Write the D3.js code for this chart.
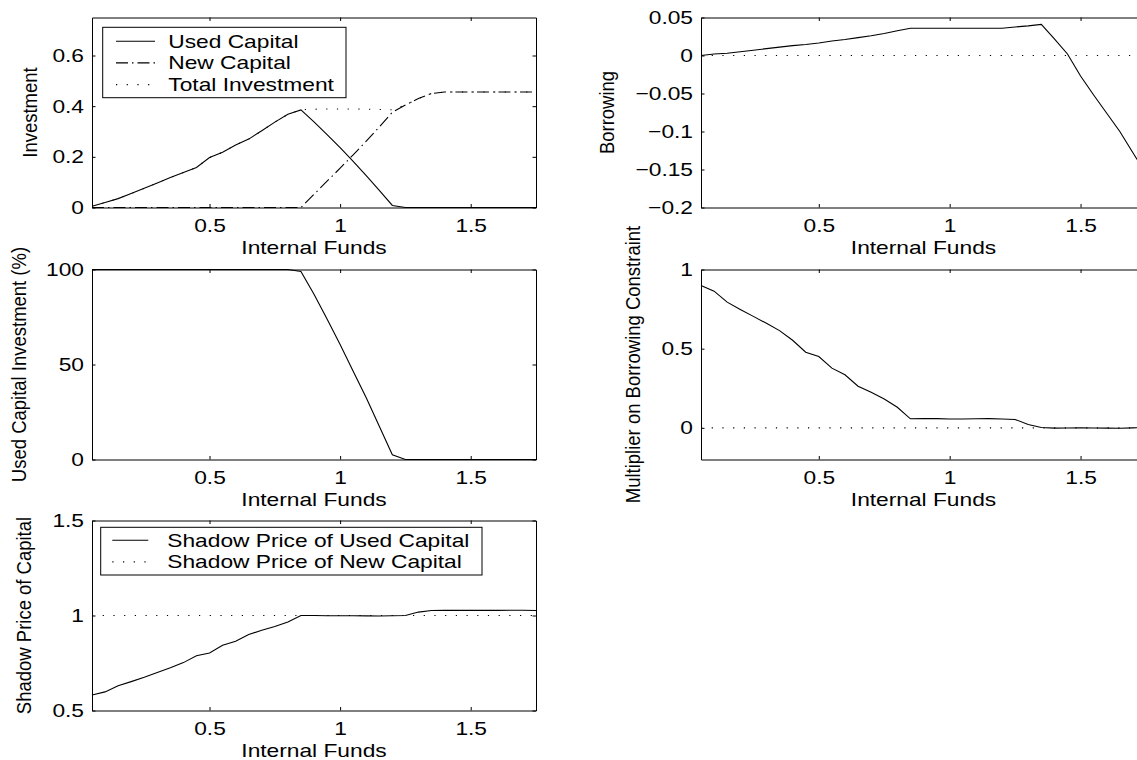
<!DOCTYPE html>
<html>
<head>
    <meta charset="utf-8">
    <title>Investment and Internal Funds</title>
    <script src="https://d3js.org/d3.v7.min.js"></script>
    <style>
        body { margin: 0; background: #fff; }
        svg { display: block; }
    </style>
</head>
<body>
    <svg id="chart"></svg>

    <script>
        // data, one value per grid point of internal funds
        var internalFunds = [0.05, 0.10, 0.15, 0.20, 0.25, 0.30, 0.35, 0.40, 0.45, 0.50, 0.55, 0.60,
            0.65, 0.70, 0.75, 0.80, 0.85, 0.90, 0.95, 1.00, 1.05, 1.10, 1.15, 1.20,
            1.25, 1.30, 1.35, 1.40, 1.45, 1.50, 1.55, 1.60, 1.65, 1.70, 1.75];

        var usedCapital = [0.005, 0.020, 0.035, 0.055, 0.076, 0.097, 0.118, 0.138, 0.158, 0.197, 0.218, 0.247,
            0.270, 0.303, 0.337, 0.368, 0.385, 0.338, 0.288, 0.236, 0.182, 0.126, 0.068, 0.008,
            0, 0, 0, 0, 0, 0, 0, 0, 0, 0, 0];
        var newCapital = [0, 0, 0, 0, 0, 0, 0, 0, 0, 0, 0, 0,
            0, 0, 0, 0, 0, 0.052, 0.104, 0.155, 0.208, 0.262, 0.318, 0.376,
            0.405, 0.430, 0.450, 0.456, 0.456, 0.456, 0.456, 0.456, 0.456, 0.456, 0.456];
        var totalInvestment = [0.005, 0.020, 0.035, 0.055, 0.076, 0.097, 0.118, 0.138, 0.158, 0.197, 0.218, 0.247,
            0.270, 0.303, 0.337, 0.368, 0.386, 0.388, 0.389, 0.389, 0.389, 0.388, 0.387, 0.386,
            0.405, 0.430, 0.450, 0.456, 0.456, 0.456, 0.456, 0.456, 0.456, 0.456, 0.456];

        var borrowing = [0.000, 0.002, 0.003, 0.005, 0.007, 0.009, 0.011, 0.013, 0.0145, 0.0165, 0.019, 0.021,
            0.0235, 0.026, 0.029, 0.0325, 0.0358, 0.0358, 0.0358, 0.0358, 0.0358, 0.0358, 0.0358, 0.0358,
            0.0375, 0.039, 0.041, 0.022, 0.002, -0.027, -0.052, -0.076, -0.100, -0.128, -0.155];

        var usedShare = [100, 100, 100, 100, 100, 100, 100, 100, 100, 100, 100, 100,
            100, 100, 100, 100, 99, 87, 74, 60.5, 46.5, 32.5, 17.5, 2.5,
            0, 0, 0, 0, 0, 0, 0, 0, 0, 0, 0];

        var multiplier = [0.899, 0.863, 0.794, 0.748, 0.704, 0.660, 0.614, 0.553, 0.478, 0.450, 0.377, 0.335,
            0.263, 0.224, 0.182, 0.130, 0.057, 0.058, 0.058, 0.056, 0.056, 0.057, 0.058, 0.056,
            0.053, 0.021, 0.002, -0.002, -0.001, 0.000, -0.001, -0.002, -0.003, 0.000, 0.002];

        var shadowUsed = [0.582, 0.598, 0.630, 0.652, 0.675, 0.700, 0.725, 0.752, 0.788, 0.803, 0.843, 0.865,
            0.900, 0.922, 0.942, 0.966, 1.000, 1.000, 0.999, 0.999, 0.999, 0.998, 0.997, 0.999,
            1.000, 1.018, 1.026, 1.028, 1.027, 1.027, 1.027, 1.027, 1.028, 1.028, 1.026];
        var shadowNew = [1, 1, 1, 1, 1, 1, 1, 1, 1, 1, 1, 1,
            1, 1, 1, 1, 1, 1, 1, 1, 1, 1, 1, 1,
            1, 1, 1, 1, 1, 1, 1, 1, 1, 1, 1];

        var xTicks = [0.5, 1, 1.5];
        var investTicks = [0, 0.2, 0.4, 0.6];
        var borrowTicks = [-0.2, -0.15, -0.1, -0.05, 0, 0.05];
        var shareTicks = [0, 50, 100];
        var multTicks = [0, 0.5, 1];
        var shadowTicks = [0.5, 1, 1.5];

        var xLabel = 'Internal Funds';
        var investLegend = ['Used Capital', 'New Capital', 'Total Investment'];
        var shadowLegend = ['Shadow Price of Used Capital', 'Shadow Price of New Capital'];

        var width = 1137;
        var height = 760;
        var font = "'Liberation Sans', Arial, Helvetica, sans-serif";
        var fontSize = 18.5;
        var stretch = 1.23;   // the figure text is drawn wide
        var dashDot = '12,4,1.5,4';
        var dotted = '1.2,9.5';

        var svg = d3.select('#chart')
            .attr('width', width)
            .attr('height', height)
            .attr('font-family', font)
            .attr('font-size', fontSize);

        var fmt = d3.format('~g');

        function wideText(g, x, y, txt, anchor) {
            return g.append('text')
                .attr('transform', 'translate(' + x + ',' + y + ') scale(' + stretch + ',1)')
                .attr('text-anchor', anchor || 'start')
                .text(txt);
        }

        function panel(box, yDomain, yTicks, yLabel, yLabelX) {
            var x = d3.scaleLinear().domain([0.05, 1.75]).range([box.left, box.right]);
            var y = d3.scaleLinear().domain(yDomain).range([box.bottom, box.top]);
            var g = svg.append('g');

            g.append('g')
                .attr('transform', 'translate(0,' + box.bottom + ')')
                .call(d3.axisBottom(x).tickValues(xTicks).tickSize(-3.5).tickSizeOuter(0)
                    .tickPadding(11.5).tickFormat(fmt))
                .attr('font-size', fontSize).attr('font-family', font)
                .selectAll('text').attr('transform', 'scale(' + stretch + ',1)');

            g.append('g')
                .attr('transform', 'translate(0,' + box.top + ')')
                .call(d3.axisTop(x).tickValues(xTicks).tickSize(-3.5).tickSizeOuter(0).tickFormat(''));

            g.append('g')
                .attr('transform', 'translate(' + box.left + ',0)')
                .call(d3.axisLeft(y).tickValues(yTicks).tickSize(-3.5).tickSizeOuter(0)
                    .tickPadding(8 / stretch).tickFormat(fmt))
                .attr('font-size', fontSize).attr('font-family', font)
                .selectAll('text').attr('transform', 'scale(' + stretch + ',1)');

            g.append('g')
                .attr('transform', 'translate(' + box.right + ',0)')
                .call(d3.axisRight(y).tickValues(yTicks).tickSize(-3.5).tickSizeOuter(0).tickFormat(''));

            wideText(g, (box.left + box.right) / 2, box.bottom + 46, xLabel, 'middle');

            // rotated label, glyphs a little thicker like the rest of the text
            g.append('text')
                .attr('transform', 'translate(' + yLabelX + ',' + (box.top + box.bottom) / 2 + ') scale(1.12,1) rotate(-90)')
                .attr('text-anchor', 'middle')
                .text(yLabel);

            return { g: g, x: x, y: y };
        }

        function series(p, values, dash) {
            var line = d3.line()
                .x(function(d, i) { return p.x(internalFunds[i]); })
                .y(function(d) { return p.y(d); });
            p.g.append('path')
                .datum(values)
                .attr('d', line)
                .attr('fill', 'none')
                .attr('stroke', '#000')
                .attr('stroke-width', 1.1)
                .attr('stroke-dasharray', dash || null);
        }

        function zeroRef(p) {
            series(p, internalFunds.map(function() { return 0; }), dotted);
        }

        function legend(g, box, labels, dashes, lineX, textX, firstBase) {
            g.append('rect')
                .attr('x', box.left).attr('y', box.top)
                .attr('width', box.right - box.left).attr('height', box.bottom - box.top)
                .attr('fill', '#fff').attr('stroke', '#000').attr('stroke-width', 1);
            labels.forEach(function(lab, i) {
                var base = firstBase + i * 21.7;
                g.append('line')
                    .attr('x1', lineX[0]).attr('x2', lineX[1])
                    .attr('y1', base - 6.5).attr('y2', base - 6.5)
                    .attr('stroke', '#000').attr('stroke-width', 1.1)
                    .attr('stroke-dasharray', dashes[i]);
                wideText(g, textX, base, lab);
            });
        }

        var left = { left: 92, right: 536 };
        var right = { left: 701, right: 1146 };
        var rows = [{ top: 17.5, bottom: 207.5 }, { top: 269.5, bottom: 459.5 }, { top: 520.5, bottom: 710.5 }];

        function box(col, row) {
            return { left: col.left, right: col.right, top: row.top, bottom: row.bottom };
        }

        // investment
        var p1 = panel(box(left, rows[0]), [0, 0.75], investTicks, 'Investment', 37);
        series(p1, usedCapital);
        series(p1, newCapital, dashDot);
        series(p1, totalInvestment, dotted);
        legend(p1.g, { left: 102.7, top: 27.3, right: 346, bottom: 97.7 }, investLegend,
            [null, dashDot, dotted], [116, 155], 168.3, 47.7);

        // borrowing
        var p2 = panel(box(right, rows[0]), [-0.2, 0.05], borrowTicks, 'Borrowing', 614);
        series(p2, borrowing);
        zeroRef(p2);

        // share of used capital
        var p3 = panel(box(left, rows[1]), [0, 100], shareTicks, 'Used Capital Investment (%)', 26);
        series(p3, usedShare);

        // multiplier
        var p4 = panel(box(right, rows[1]), [-0.2, 1], multTicks, 'Multiplier on Borrowing Constraint', 640);
        series(p4, multiplier);
        zeroRef(p4);

        // shadow prices
        var p5 = panel(box(left, rows[2]), [0.5, 1.5], shadowTicks, 'Shadow Price of Capital', 31);
        series(p5, shadowUsed);
        series(p5, shadowNew, dotted);
        legend(p5.g, { left: 100.7, top: 527.3, right: 482, bottom: 575 }, shadowLegend,
            [null, dotted], [112.3, 148.3], 167.3, 546.7);
    </script>
</body>
</html>
